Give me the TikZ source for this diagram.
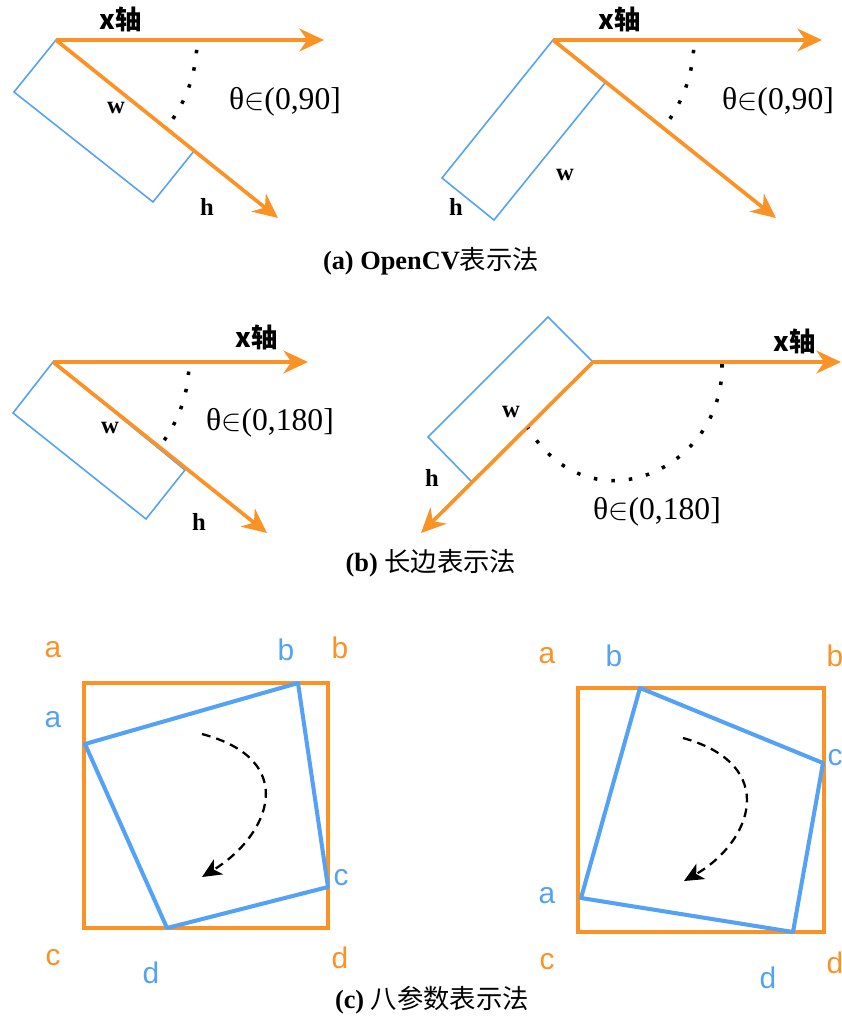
\documentclass[tikz,border=0pt]{standalone}
\usepackage{fontspec}
\setmainfont{Liberation Serif}
\setsansfont{Liberation Sans}
\newfontfamily\cjk{Noto Sans CJK SC}
\usetikzlibrary{arrows.meta}
\definecolor{axisorange}{RGB}{250,146,38}
\definecolor{boxblue}{RGB}{84,162,245}

\begin{document}
\begin{tikzpicture}[
  x=0.02cm, y=-0.02cm,
  axis/.style={draw=axisorange, line width=2.1pt,
               -{Stealth[length=14pt, width=13pt, inset=4.5pt]}},
  thinbox/.style={draw=boxblue, line width=0.9pt},
  dotarc/.style={draw=black, line width=2pt, dash pattern=on 2pt off 8pt},
  axlbl/.style={font=\cjk\bfseries\fontsize{15}{17}\selectfont},
  anglbl/.style={font=\fontsize{18}{20}\selectfont},
  sidelbl/.style={font=\bfseries\fontsize{14}{16}\selectfont},
  caption/.style={font=\bfseries\fontsize{15}{18}\selectfont},
  square/.style={draw=axisorange, line width=2pt},
  quad/.style={draw=boxblue, line width=2.3pt, line join=round},
  turn/.style={draw=black, line width=1.3pt, dash pattern=on 5pt off 3.5pt,
               -{Stealth[length=11pt, width=10pt, inset=3pt]}},
  olbl/.style={text=axisorange, font=\sffamily\fontsize{17}{19}\selectfont},
  blbl/.style={text=boxblue, font=\sffamily\fontsize{17}{19}\selectfont}
]
\useasboundingbox (0,0) rectangle (842,1018);

% (a) OpenCV
\coordinate (o1) at (56,40);
\coordinate (x1) at (324,40);
\coordinate (d1) at (278,218);
\draw[thinbox] (o1) -- (14,92) -- (153,202) -- (194,151) -- cycle;
\draw[axis] (o1) -- (x1);
\draw[axis] (o1) -- (d1);
\draw[dotarc] (o1) ++(4:141) arc[start angle=4, end angle=38.7, radius=141];
\node[axlbl] (xa1) at (121,19) {x轴};
\node[anglbl] (th1) at (285,102) {θ\ensuremath{\in}(0,90]};
\node[sidelbl] (w1) at (116,108) {w};
\node[sidelbl] (h1) at (207,207) {h};

\coordinate (o2) at (553,40);
\coordinate (x2) at (822,40);
\coordinate (d2) at (776,218);
\draw[thinbox] (o2) -- (442,178) -- (494,220) -- (605,83) -- cycle;
\draw[axis] (o2) -- (x2);
\draw[axis] (o2) -- (d2);
\draw[dotarc] (o2) ++(4:141) arc[start angle=4, end angle=38.6, radius=141];
\node[axlbl] (xa2) at (620,19) {x轴};
\node[anglbl] (th2) at (778,102) {θ\ensuremath{\in}(0,90]};
\node[sidelbl] (w2) at (565,175) {w};
\node[sidelbl] (h2) at (456,207) {h};

\node[caption] (capa) at (431,261) {(a) OpenCV{\cjk\mdseries 表示法}};

% (b) long side
\coordinate (o3) at (53,362);
\coordinate (x3) at (308,362);
\coordinate (d3) at (267,533);
\draw[thinbox] (o3) -- (13,413) -- (146,519) -- (185,470) -- cycle;
\draw[axis] (o3) -- (x3);
\draw[axis] (o3) -- (d3);
\draw[dotarc] (o3) ++(4:136) arc[start angle=4, end angle=38.6, radius=136];
\node[axlbl] (xa3) at (257,337) {x轴};
\node[anglbl] (th3) at (270,423) {θ\ensuremath{\in}(0,180]};
\node[sidelbl] (w3) at (110,428) {w};
\node[sidelbl] (h3) at (199,522) {h};

\coordinate (o4) at (593,362);
\coordinate (x4) at (841,362);
\coordinate (d4) at (421,533);
\draw[thinbox] (o4) -- (548,317) -- (428,437) -- (472,482) -- cycle;
\draw[axis] (o4) -- (x4);
\draw[axis] (o4) -- (d4);
\coordinate (a4) at (722,364);
\coordinate (b4) at (528,428);
\draw[dotarc] (a4) .. controls (724,470) and (590,530) .. (b4);
\node[axlbl] (xa4) at (795,341) {x轴};
\node[anglbl] (th4) at (657,512) {θ\ensuremath{\in}(0,180]};
\node[sidelbl] (w4) at (511,412) {w};
\node[sidelbl] (h4) at (432,478) {h};

\node[caption] (capb) at (431,563) {(b) {\cjk\mdseries 长边表示法}};

% (c) eight parameters
\draw[square] (84,683) rectangle (328,928);
\coordinate (qa1) at (85,744);
\coordinate (qb1) at (298,683);
\coordinate (qc1) at (328,887);
\coordinate (qd1) at (167,928);
\draw[quad] (qa1) -- (qb1) -- (qc1) -- (qd1) -- cycle;
\coordinate (s1) at (202,734);
\coordinate (e1) at (202,877);
\draw[turn] (s1) .. controls (300,760) and (270,835) .. (e1);
\node[olbl] (oa1) at (53,650) {a};
\node[olbl] (ob1) at (340,648) {b};
\node[olbl] (oc1) at (53,958) {c};
\node[olbl] (od1) at (340,958) {d};
\node[blbl] (ba1) at (53,720) {a};
\node[blbl] (bb1) at (286,650) {b};
\node[blbl] (bc1) at (341,878) {c};
\node[blbl] (bd1) at (151,973) {d};

\draw[square] (578,688) rectangle (824,932);
\coordinate (qa2) at (581,898);
\coordinate (qb2) at (640,688);
\coordinate (qc2) at (823,763);
\coordinate (qd2) at (793,932);
\draw[quad] (qa2) -- (qb2) -- (qc2) -- (qd2) -- cycle;
\coordinate (s2) at (683,738);
\coordinate (e2) at (684,881);
\draw[turn] (s2) .. controls (780,765) and (752,842) .. (e2);
\node[olbl] (oa2) at (547,656) {a};
\node[blbl] (bb2) at (614,656) {b};
\node[olbl] (ob2) at (835,656) {b};
\node[blbl] (bc2) at (835,758) {c};
\node[blbl] (ba2) at (547,896) {a};
\node[olbl] (oc2) at (547,962) {c};
\node[blbl] (bd2) at (768,978) {d};
\node[olbl] (od2) at (835,963) {d};

\node[caption] (capc) at (432,1000) {(c) {\cjk\mdseries 八参数表示法}};
\end{tikzpicture}
\end{document}
